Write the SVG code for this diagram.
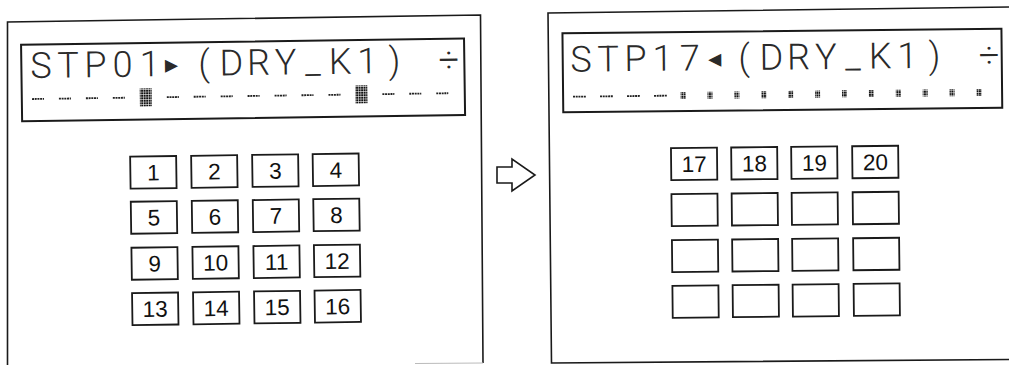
<svg xmlns="http://www.w3.org/2000/svg" width="1009" height="365" viewBox="0 0 1009 365">
<style>
.frame{fill:none;stroke:#1a1a1a;stroke-width:1.6}
.lcd{fill:#fff;stroke:#1a1a1a;stroke-width:2}
.btn{fill:#fff;stroke:#1a1a1a;stroke-width:1.8}
.num{font-family:"Liberation Sans",Arial,sans-serif;font-size:22.5px;fill:#111;text-anchor:middle}
.lcdtxt{font-family:Roboto,"DejaVu Sans",sans-serif;font-weight:300;font-size:36px;fill:#2a2a2a;text-anchor:middle}
.tri{font-family:"DejaVu Sans",sans-serif;font-size:17px;font-weight:normal}
.dash{stroke:#222;stroke-width:1.8;stroke-dasharray:2 0.7}
.blk{fill:url(#dots)}
.arrow{fill:#fff;stroke:#1a1a1a;stroke-width:1.6;stroke-linejoin:miter}
</style>
<defs>
<pattern id="dots" width="2.5" height="2.5" patternUnits="userSpaceOnUse">
<rect width="2" height="2" fill="#111"/>
</pattern>
</defs>
<rect width="1009" height="365" fill="#fff"/>

<g id="left-panel">
<path class="frame" d="M7.5,365 L7.5,22 L480.5,15 L483,363"/>
<path d="M415,363.5 L483,363" stroke="#bbb" stroke-width="1.2" fill="none"/>
<g transform="rotate(-0.8,500,180)">
<g id="lcd-left">
<rect class="lcd" x="23" y="38" width="443" height="76.5"/>
<text class="lcdtxt" y="71.5" x="42.6 69.8 97 124.2 151.4">STP01</text>
<text class="lcdtxt tri" y="66" x="173">▶</text>
<text class="lcdtxt" y="71.5" x="205.8 233 260.2 287.4 314.6 341.8 369 396.2">(DRY_K1)</text>
<text class="lcdtxt" y="71.5" x="450.6">÷</text>
<g id="indicators-left">
<line class="dash" x1="33.2" y1="92.5" x2="45.2" y2="92.5"/>
<line class="dash" x1="60.1" y1="92.5" x2="72.1" y2="92.5"/>
<line class="dash" x1="87.1" y1="92.5" x2="99.1" y2="92.5"/>
<line class="dash" x1="114" y1="92.5" x2="126" y2="92.5"/>
<rect class="blk" x="141" y="83.5" width="12" height="18"/>
<line class="dash" x1="168" y1="92.5" x2="180" y2="92.5"/>
<line class="dash" x1="194.9" y1="92.5" x2="206.9" y2="92.5"/>
<line class="dash" x1="221.9" y1="92.5" x2="233.9" y2="92.5"/>
<line class="dash" x1="248.8" y1="92.5" x2="260.8" y2="92.5"/>
<line class="dash" x1="275.8" y1="92.5" x2="287.8" y2="92.5"/>
<line class="dash" x1="302.7" y1="92.5" x2="314.7" y2="92.5"/>
<line class="dash" x1="329.7" y1="92.5" x2="341.7" y2="92.5"/>
<rect class="blk" x="356.6" y="83.5" width="12" height="18"/>
<line class="dash" x1="383.6" y1="92.5" x2="395.6" y2="92.5"/>
<line class="dash" x1="410.5" y1="92.5" x2="422.5" y2="92.5"/>
<line class="dash" x1="437.5" y1="92.5" x2="449.5" y2="92.5"/>
</g>
</g>
<g id="b1"><rect class="btn" x="130.5" y="151.5" width="46" height="32"/><text class="num" x="153.5" y="175.5">1</text></g>
<g id="b2"><rect class="btn" x="191.5" y="151.5" width="46" height="32"/><text class="num" x="214.5" y="175.5">2</text></g>
<g id="b3"><rect class="btn" x="252.5" y="151.5" width="46" height="32"/><text class="num" x="275.5" y="175.5">3</text></g>
<g id="b4"><rect class="btn" x="313" y="151.5" width="46" height="32"/><text class="num" x="336" y="175.5">4</text></g>
<g id="b5"><rect class="btn" x="130.5" y="196.6" width="46" height="32"/><text class="num" x="153.5" y="220.6">5</text></g>
<g id="b6"><rect class="btn" x="191.5" y="196.6" width="46" height="32"/><text class="num" x="214.5" y="220.6">6</text></g>
<g id="b7"><rect class="btn" x="252.5" y="196.6" width="46" height="32"/><text class="num" x="275.5" y="220.6">7</text></g>
<g id="b8"><rect class="btn" x="313" y="196.6" width="46" height="32"/><text class="num" x="336" y="220.6">8</text></g>
<g id="b9"><rect class="btn" x="130.5" y="242.6" width="46" height="32"/><text class="num" x="153.5" y="266.6">9</text></g>
<g id="b10"><rect class="btn" x="191.5" y="242.6" width="46" height="32"/><text class="num" x="214.5" y="266.6">10</text></g>
<g id="b11"><rect class="btn" x="252.5" y="242.6" width="46" height="32"/><text class="num" x="275.5" y="266.6">11</text></g>
<g id="b12"><rect class="btn" x="313" y="242.6" width="46" height="32"/><text class="num" x="336" y="266.6">12</text></g>
<g id="b13"><rect class="btn" x="130.5" y="288" width="46" height="32"/><text class="num" x="153.5" y="312">13</text></g>
<g id="b14"><rect class="btn" x="191.5" y="288" width="46" height="32"/><text class="num" x="214.5" y="312">14</text></g>
<g id="b15"><rect class="btn" x="252.5" y="288" width="46" height="32"/><text class="num" x="275.5" y="312">15</text></g>
<g id="b16"><rect class="btn" x="313" y="288" width="46" height="32"/><text class="num" x="336" y="312">16</text></g>
</g>
</g>

<g id="connectors">
<polygon class="arrow" points="497,167 512,167 512,159 535,175 512,191 512,183 497,183"/>
</g>

<g id="right-panel">
<path class="frame" d="M1009,7 L548,13 L551.5,363 L1009,359.5"/>
<g transform="rotate(-0.6,780,180)">
<g id="lcd-right">
<rect class="lcd" x="564" y="31" width="439" height="79"/>
<text class="lcdtxt" y="69.5" x="582.3 609.5 636.7 663.9 691.1">STP17</text>
<text class="lcdtxt tri" y="64" x="716">◀</text>
<text class="lcdtxt" y="69.5" x="745.5 772.7 799.9 827.1 854.3 881.5 908.7 935.9">(DRY_K1)</text>
<text class="lcdtxt" y="69.5" x="990.3">÷</text>
<g id="indicators-right">
<line class="dash" x1="573.9" y1="94.5" x2="586.9" y2="94.5"/>
<line class="dash" x1="600.9" y1="94.5" x2="613.9" y2="94.5"/>
<line class="dash" x1="627.9" y1="94.5" x2="640.9" y2="94.5"/>
<line class="dash" x1="654.9" y1="94.5" x2="667.9" y2="94.5"/>
<rect class="blk" x="681.5" y="91" width="5" height="7"/>
<rect class="blk" x="708.4" y="91" width="5" height="7"/>
<rect class="blk" x="735.3" y="91" width="5" height="7"/>
<rect class="blk" x="762.2" y="91" width="5" height="7"/>
<rect class="blk" x="789.1" y="91" width="5" height="7"/>
<rect class="blk" x="816" y="91" width="5" height="7"/>
<rect class="blk" x="842.9" y="91" width="5" height="7"/>
<rect class="blk" x="869.8" y="91" width="5" height="7"/>
<rect class="blk" x="896.7" y="91" width="5" height="7"/>
<rect class="blk" x="923.6" y="91" width="5" height="7"/>
<rect class="blk" x="950.5" y="91" width="5" height="7"/>
<rect class="blk" x="977.4" y="91" width="5" height="7"/>
</g>
</g>
<g id="b17"><rect class="btn" x="671.3" y="147" width="46" height="32"/><text class="num" x="694.3" y="171">17</text></g>
<g id="b18"><rect class="btn" x="731.5" y="147" width="46" height="32"/><text class="num" x="754.5" y="171">18</text></g>
<g id="b19"><rect class="btn" x="791.5" y="147" width="46" height="32"/><text class="num" x="814.5" y="171">19</text></g>
<g id="b20"><rect class="btn" x="852.5" y="147" width="46" height="32"/><text class="num" x="875.5" y="171">20</text></g>
<g id="e21"><rect class="btn" x="671.3" y="193" width="46" height="32"/></g>
<g id="e22"><rect class="btn" x="731.5" y="193" width="46" height="32"/></g>
<g id="e23"><rect class="btn" x="791.5" y="193" width="46" height="32"/></g>
<g id="e24"><rect class="btn" x="852.5" y="193" width="46" height="32"/></g>
<g id="e25"><rect class="btn" x="671.3" y="239" width="46" height="32"/></g>
<g id="e26"><rect class="btn" x="731.5" y="239" width="46" height="32"/></g>
<g id="e27"><rect class="btn" x="791.5" y="239" width="46" height="32"/></g>
<g id="e28"><rect class="btn" x="852.5" y="239" width="46" height="32"/></g>
<g id="e29"><rect class="btn" x="671.3" y="284.7" width="46" height="32"/></g>
<g id="e30"><rect class="btn" x="731.5" y="284.7" width="46" height="32"/></g>
<g id="e31"><rect class="btn" x="791.5" y="284.7" width="46" height="32"/></g>
<g id="e32"><rect class="btn" x="852.5" y="284.7" width="46" height="32"/></g>
</g>
</g>
</svg>
